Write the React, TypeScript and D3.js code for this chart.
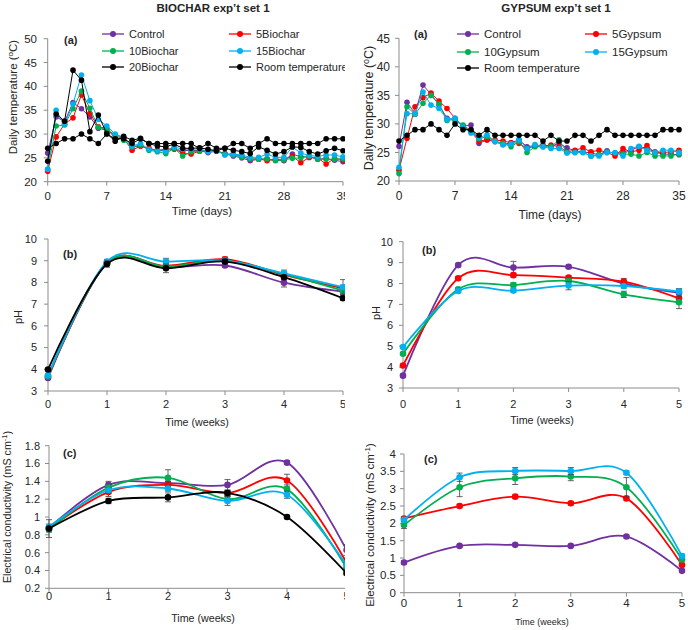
import React from 'react';
import * as d3 from 'd3';

// ---------- categories ----------
const DAYS = Array.from({ length: 36 }, (_, i) => i);
const WEEKS = [0, 1, 2, 3, 4, 5];
const DAY_TICKS = [0, 7, 14, 21, 28, 35];

// ---------- colours ----------
const C_CONTROL = '#7030A0';
const C_5 = '#FF0000';
const C_10 = '#00B050';
const C_15 = '#00B0F0';
const C_20 = '#000000';
const C_ROOM = '#000000';

// ---------- (a) daily temperature, biochar ----------
const bTempControl = [26, 33.6, 32.6, 36.6, 35.3, 33.6, 31.2, 30.8, 29.8, 29.3, 27.3, 27.5, 26.9, 26.5, 26.6, 26.8, 26.5, 26.6, 26.5, 26.1, 26.4, 25.9, 25.4, 25.0, 24.4, 24.7, 24.8, 24.5, 24.4, 25.8, 25.2, 25.2, 24.7, 24.9, 24.5, 24.2];
const bTemp5 = [22.2, 29.4, 32.1, 33.4, 38.2, 34.3, 31.5, 31.2, 29.1, 29.1, 26.6, 27.5, 27.0, 26.6, 26.8, 27.0, 25.9, 25.8, 26.4, 26.5, 26.5, 25.8, 25.8, 25.4, 24.7, 24.8, 24.4, 24.7, 24.7, 25.3, 24.0, 25.1, 25.0, 23.7, 24.9, 24.6];
const bTemp10 = [22.6, 31.7, 31.9, 35.3, 39.0, 35.4, 31.4, 31.0, 29.8, 28.7, 27.3, 27.7, 26.6, 26.3, 25.9, 27.0, 25.4, 26.3, 26.4, 26.5, 26.6, 25.7, 25.6, 25.2, 24.8, 24.7, 24.8, 24.4, 24.6, 24.9, 25.0, 25.4, 24.7, 24.7, 24.7, 24.8];
const bTemp15 = [22.6, 35.0, 32.0, 36.3, 42.4, 37.0, 33.1, 31.7, 30.0, 29.3, 27.5, 28.0, 26.8, 26.5, 26.4, 27.3, 26.8, 26.8, 26.9, 26.3, 26.5, 25.6, 25.8, 25.6, 25.1, 25.1, 25.8, 25.1, 25.1, 27.3, 26.0, 25.5, 25.3, 25.6, 25.6, 25.2];
const bTemp20 = [24.3, 34.2, 32.7, 43.4, 41.3, 30.5, 34.0, 30.1, 28.5, 29.5, 28.7, 29.1, 28.0, 27.5, 27.3, 27.9, 27.0, 27.0, 27.1, 26.8, 26.5, 27.0, 26.6, 26.3, 25.9, 27.3, 26.6, 25.8, 26.3, 27.3, 27.2, 26.3, 25.8, 26.5, 27.0, 26.5];
const roomTemp = [27, 28, 29, 29, 30, 29, 28, 30, 29, 29, 28, 29, 28, 28, 28, 28, 28, 28, 27, 28, 27, 27, 28, 28, 27, 28, 29, 28, 28, 28, 28, 28, 28, 29, 29, 29];

// ---------- (a) daily temperature, gypsum ----------
const gTempControl = [26.1, 33.8, 31.8, 36.8, 35.2, 33.3, 31.0, 30.7, 29.6, 29.8, 26.6, 27.2, 26.9, 26.4, 26.7, 27.2, 26.0, 26.2, 26.3, 26.1, 26.6, 25.8, 25.3, 25.1, 24.9, 24.6, 25.3, 24.7, 25.1, 25.4, 26.0, 25.7, 25.1, 24.7, 24.7, 24.6];
const gTemp5 = [21.9, 27.5, 33.0, 34.6, 35.4, 34.0, 32.7, 31.0, 29.6, 28.6, 27.0, 27.2, 27.2, 27.0, 26.7, 26.6, 25.7, 26.1, 26.1, 26.3, 26.0, 25.1, 25.4, 25.8, 25.1, 25.4, 25.0, 24.4, 25.7, 25.1, 25.4, 26.2, 24.9, 25.0, 25.1, 25.4];
const gTemp10 = [21.3, 33.0, 31.7, 33.6, 35.0, 33.5, 30.6, 30.8, 29.8, 28.8, 27.4, 27.8, 27.0, 26.6, 26.0, 26.9, 25.0, 26.0, 26.0, 26.0, 27.2, 25.0, 25.0, 25.0, 24.4, 24.6, 25.1, 24.9, 24.7, 24.7, 24.4, 25.0, 24.4, 24.4, 24.4, 24.7];
const gTemp15 = [22.4, 31.8, 31.8, 35.6, 33.3, 32.7, 30.8, 31.0, 29.4, 28.4, 27.6, 28.1, 26.9, 26.3, 26.5, 27.2, 25.7, 26.4, 26.0, 25.7, 25.7, 24.9, 25.0, 25.0, 24.4, 24.4, 25.0, 25.0, 24.4, 25.7, 26.1, 25.4, 25.0, 25.4, 25.4, 25.0];

// ---------- (b) pH ----------
const bPhControl = [3.6, 8.89, 8.69, 8.78, 7.99, 7.58];
const bPh5 = [3.65, 8.9, 8.76, 9.07, 8.35, 7.73];
const bPh10 = [3.68, 8.9, 8.73, 9.0, 8.38, 7.62];
const bPh15 = [3.72, 8.96, 8.96, 9.0, 8.42, 7.78];
const bPh20 = [3.99, 8.85, 8.65, 8.96, 8.24, 7.27];
const bPhErrControl = [0.05, 0.1, 0.1, 0.08, 0.2, 0.15];
const bPhErr5 = [0.05, 0.1, 0.1, 0.1, 0.1, 0.15];
const bPhErr10 = [0.05, 0.1, 0.1, 0.08, 0.1, 0.2];
const bPhErr15 = [0.05, 0.1, 0.15, 0.1, 0.15, 0.35];
const bPhErr20 = [0.05, 0.15, 0.2, 0.1, 0.1, 0.1];

const gPhControl = [3.59, 8.88, 8.76, 8.8, 8.0, 7.56];
const gPh5 = [4.08, 8.25, 8.4, 8.28, 8.09, 7.29];
const gPh10 = [4.64, 7.72, 7.93, 8.12, 7.48, 7.1];
const gPh15 = [4.96, 7.64, 7.66, 7.9, 7.88, 7.61];
const gPhErrControl = [0.05, 0.08, 0.3, 0.08, 0.1, 0.2];
const gPhErr5 = [0.05, 0.08, 0.1, 0.1, 0.15, 0.1];
const gPhErr10 = [0.05, 0.08, 0.1, 0.1, 0.15, 0.3];
const gPhErr15 = [0.05, 0.08, 0.08, 0.2, 0.1, 0.1];

// ---------- (c) electrical conductivity ----------
const bEcControl = [0.88, 1.36, 1.38, 1.36, 1.61, 0.63];
const bEc5 = [0.87, 1.28, 1.36, 1.27, 1.41, 0.49];
const bEc10 = [0.86, 1.33, 1.44, 1.2, 1.31, 0.43];
const bEc15 = [0.89, 1.3, 1.32, 1.18, 1.25, 0.46];
const bEc20 = [0.87, 1.18, 1.22, 1.27, 1.0, 0.37];
const bEcErrControl = [0.03, 0.04, 0.04, 0.06, 0.02, 0.06];
const bEcErr5 = [0.03, 0.05, 0.03, 0.03, 0.07, 0.03];
const bEcErr10 = [0.03, 0.03, 0.09, 0.03, 0.05, 0.03];
const bEcErr15 = [0.03, 0.03, 0.03, 0.05, 0.04, 0.03];
const bEcErr20 = [0.1, 0.03, 0.05, 0.03, 0.02, 0.02];

const gEcControl = [0.87, 1.35, 1.38, 1.35, 1.62, 0.63];
const gEc5 = [2.14, 2.5, 2.77, 2.58, 2.72, 0.8];
const gEc10 = [1.95, 3.04, 3.3, 3.35, 3.04, 0.96];
const gEc15 = [2.1, 3.33, 3.51, 3.51, 3.46, 1.06];
const gEcErrControl = [0.05, 0.03, 0.03, 0.03, 0.04, 0.03];
const gEcErr5 = [0.05, 0.05, 0.05, 0.05, 0.05, 0.05];
const gEcErr10 = [0.1, 0.27, 0.18, 0.12, 0.28, 0.05];
const gEcErr15 = [0.05, 0.12, 0.1, 0.1, 0.05, 0.05];

// ---------- tick labels ----------
const TEMP_B_TICKS = [20, 25, 30, 35, 40, 45, 50];
const TEMP_G_TICKS = [20, 25, 30, 35, 40, 45];
const PH_TICKS = [3, 4, 5, 6, 7, 8, 9, 10];
const ECB_TICKS = [0.2, 0.4, 0.6, 0.8, 1, 1.2, 1.4, 1.6, 1.8];
const ECG_TICKS = [0, 0.5, 1, 1.5, 2, 2.5, 3, 3.5, 4];

const FONT = '"Liberation Sans", Arial, sans-serif';
const TXT = '#262626';
const AXIS = '#8c8c8c';

type Series = { name: string; color: string; values: number[]; err?: number[] };

type LegendItem = { s: Series; lx: number; ly: number };

type PanelCfg = {
  clip?: boolean;
  xs: number[];
  xr: [number, number];
  yr: [number, number];
  xd: [number, number];
  yd: [number, number];
  xTicks: number[];
  yTicks: number[];
  tickFont: number;
  xTickBase: number;
  yTickRight: number;
  series: Series[];
  smooth: boolean;
  r: number;
  lw: number;
  xTitle: string;
  xTitleX: number;
  xTitleY: number;
  xTitleFont: number;
  yTitle: React.ReactNode;
  yTitleX: number;
  yTitleY: number;
  yTitleFont: number;
  tag: string;
  tagX: number;
  tagY: number;
  legend?: LegendItem[];
  legendFont?: number;
};

function Panel({ c }: { c: PanelCfg }) {
  const x = d3.scaleLinear().domain(c.xd).range(c.xr);
  const y = d3.scaleLinear().domain(c.yd).range(c.yr);
  const line = d3
    .line<number>()
    .x((_, i) => x(c.xs[i]))
    .y((v) => y(v));
  if (c.smooth) line.curve(d3.curveCatmullRom.alpha(0));
  const fmt = (v: number) => String(+v.toFixed(2));
  return (
    <g clipPath={c.clip ? 'url(#leftclip)' : undefined} fontFamily={FONT}>
      {/* axes */}
      <line x1={c.xr[0]} x2={c.xr[0]} y1={c.yr[0]} y2={c.yr[1]} stroke={AXIS} strokeWidth={1} />
      <line x1={c.xr[0]} x2={c.xr[1]} y1={c.yr[0]} y2={c.yr[0]} stroke={AXIS} strokeWidth={1} />
      {c.yTicks.map((t) => (
        <g key={'y' + t}>
          <line x1={c.xr[0] - 4} x2={c.xr[0]} y1={y(t)} y2={y(t)} stroke={AXIS} />
          <text x={c.yTickRight} y={y(t)} dy="0.35em" textAnchor="end" fontSize={c.tickFont} fill={TXT}>
            {fmt(t)}
          </text>
        </g>
      ))}
      {c.xTicks.map((t) => (
        <g key={'x' + t}>
          <line x1={x(t)} x2={x(t)} y1={c.yr[0]} y2={c.yr[0] + 4} stroke={AXIS} />
          <text x={x(t)} y={c.xTickBase} textAnchor="middle" fontSize={c.tickFont} fill={TXT}>
            {fmt(t)}
          </text>
        </g>
      ))}
      <text x={c.xTitleX} y={c.xTitleY} textAnchor="middle" fontSize={c.xTitleFont} fill={TXT}>
        {c.xTitle}
      </text>
      <text
        transform={`translate(${c.yTitleX},${c.yTitleY}) rotate(-90)`}
        textAnchor="middle"
        fontSize={c.yTitleFont}
        fill={TXT}
      >
        {c.yTitle}
      </text>
      <text x={c.tagX} y={c.tagY} fontSize={11} fontWeight="bold" fill={TXT}>
        {c.tag}
      </text>
      {/* series */}
      {c.series.map((s) => (
        <g key={s.name}>
          <path d={line(s.values) || ''} fill="none" stroke={s.color} strokeWidth={c.lw} />
          {s.err &&
            s.values.map((v, i) => {
              const e = s.err![i];
              const xx = x(c.xs[i]);
              return (
                <g key={i} stroke="#404040" strokeWidth={0.8}>
                  <line x1={xx} x2={xx} y1={y(v - e)} y2={y(v + e)} />
                  <line x1={xx - 3} x2={xx + 3} y1={y(v - e)} y2={y(v - e)} />
                  <line x1={xx - 3} x2={xx + 3} y1={y(v + e)} y2={y(v + e)} />
                </g>
              );
            })}
          {s.values.map((v, i) => (
            <circle key={i} cx={x(c.xs[i])} cy={y(v)} r={c.r} fill={s.color} />
          ))}
        </g>
      ))}
      {c.legend &&
        c.legend.map((l) => (
          <g key={'lg' + l.s.name}>
            <line x1={l.lx} x2={l.lx + 22} y1={l.ly} y2={l.ly} stroke={l.s.color} strokeWidth={1.3} />
            <circle cx={l.lx + 11} cy={l.ly} r={3} fill={l.s.color} />
            <text x={l.lx + 27} y={l.ly} dy="0.35em" fontSize={c.legendFont} fill={TXT}>
              {l.s.name}
            </text>
          </g>
        ))}
    </g>
  );
}

const tempTitle = (
  <>
    Daily temperature (<tspan dy={-4} fontSize="0.7em">o</tspan>
    <tspan dy={4}>C)</tspan>
  </>
);
const ecTitle = (
  <>
    Electrical conductivity (mS cm<tspan dy={-4} fontSize="0.7em">-1</tspan>
    <tspan dy={4}>)</tspan>
  </>
);

export default function App() {
  const bTempSeries: Series[] = [
    { name: 'Control', color: C_CONTROL, values: bTempControl },
    { name: '5Biochar', color: C_5, values: bTemp5 },
    { name: '10Biochar', color: C_10, values: bTemp10 },
    { name: '15Biochar', color: C_15, values: bTemp15 },
    { name: '20Biochar', color: C_20, values: bTemp20 },
    { name: 'Room temperature', color: C_ROOM, values: roomTemp },
  ];
  const gTempSeries: Series[] = [
    { name: 'Control', color: C_CONTROL, values: gTempControl },
    { name: '5Gypsum', color: C_5, values: gTemp5 },
    { name: '10Gypsum', color: C_10, values: gTemp10 },
    { name: '15Gypsum', color: C_15, values: gTemp15 },
    { name: 'Room temperature', color: C_ROOM, values: roomTemp },
  ];
  const bPhSeries: Series[] = [
    { name: 'Control', color: C_CONTROL, values: bPhControl, err: bPhErrControl },
    { name: '5Biochar', color: C_5, values: bPh5, err: bPhErr5 },
    { name: '10Biochar', color: C_10, values: bPh10, err: bPhErr10 },
    { name: '15Biochar', color: C_15, values: bPh15, err: bPhErr15 },
    { name: '20Biochar', color: C_20, values: bPh20, err: bPhErr20 },
  ];
  const gPhSeries: Series[] = [
    { name: 'Control', color: C_CONTROL, values: gPhControl, err: gPhErrControl },
    { name: '5Gypsum', color: C_5, values: gPh5, err: gPhErr5 },
    { name: '10Gypsum', color: C_10, values: gPh10, err: gPhErr10 },
    { name: '15Gypsum', color: C_15, values: gPh15, err: gPhErr15 },
  ];
  const bEcSeries: Series[] = [
    { name: 'Control', color: C_CONTROL, values: bEcControl, err: bEcErrControl },
    { name: '5Biochar', color: C_5, values: bEc5, err: bEcErr5 },
    { name: '10Biochar', color: C_10, values: bEc10, err: bEcErr10 },
    { name: '15Biochar', color: C_15, values: bEc15, err: bEcErr15 },
    { name: '20Biochar', color: C_20, values: bEc20, err: bEcErr20 },
  ];
  const gEcSeries: Series[] = [
    { name: 'Control', color: C_CONTROL, values: gEcControl, err: gEcErrControl },
    { name: '5Gypsum', color: C_5, values: gEc5, err: gEcErr5 },
    { name: '10Gypsum', color: C_10, values: gEc10, err: gEcErr10 },
    { name: '15Gypsum', color: C_15, values: gEc15, err: gEcErr15 },
  ];

  const panels: PanelCfg[] = [
    {
      clip: true, xs: DAYS, xr: [47.7, 343], yr: [181.7, 38.7], xd: [0, 35], yd: [20, 50],
      xTicks: DAY_TICKS, yTicks: TEMP_B_TICKS, tickFont: 11.5, xTickBase: 200, yTickRight: 37,
      series: bTempSeries, smooth: false, r: 2.8, lw: 1,
      xTitle: 'Time (days)', xTitleX: 202, xTitleY: 215, xTitleFont: 11.5,
      yTitle: tempTitle, yTitleX: 17, yTitleY: 97, yTitleFont: 11.5,
      tag: '(a)', tagX: 64, tagY: 44,
      legendFont: 11,
      legend: [
        { s: bTempSeries[0], lx: 102, ly: 34 },
        { s: bTempSeries[1], lx: 229, ly: 34 },
        { s: bTempSeries[2], lx: 102, ly: 51 },
        { s: bTempSeries[3], lx: 229, ly: 51 },
        { s: bTempSeries[4], lx: 102, ly: 67 },
        { s: bTempSeries[5], lx: 229, ly: 67 },
      ],
    },
    {
      xs: DAYS, xr: [399, 679], yr: [181, 38.3], xd: [0, 35], yd: [20, 45],
      xTicks: DAY_TICKS, yTicks: TEMP_G_TICKS, tickFont: 12, xTickBase: 200, yTickRight: 390,
      series: gTempSeries, smooth: false, r: 2.8, lw: 1,
      xTitle: 'Time (days)', xTitleX: 550, xTitleY: 219, xTitleFont: 12,
      yTitle: tempTitle, yTitleX: 373, yTitleY: 108, yTitleFont: 12.5,
      tag: '(a)', tagX: 414, tagY: 38,
      legendFont: 11.5,
      legend: [
        { s: gTempSeries[0], lx: 457, ly: 34 },
        { s: gTempSeries[1], lx: 585, ly: 34 },
        { s: gTempSeries[2], lx: 457, ly: 52 },
        { s: gTempSeries[3], lx: 585, ly: 52 },
        { s: gTempSeries[4], lx: 457, ly: 68 },
      ],
    },
    {
      clip: true, xs: WEEKS, xr: [48, 343], yr: [391, 239], xd: [0, 5], yd: [3, 10],
      xTicks: WEEKS, yTicks: PH_TICKS, tickFont: 11, xTickBase: 408, yTickRight: 37,
      series: bPhSeries, smooth: true, r: 3.3, lw: 1.8,
      xTitle: 'Time (weeks)', xTitleX: 197, xTitleY: 426, xTitleFont: 10.7,
      yTitle: 'pH', yTitleX: 22, yTitleY: 317, yTitleFont: 11,
      tag: '(b)', tagX: 63, tagY: 258,
    },
    {
      xs: WEEKS, xr: [403, 679], yr: [388, 241.7], xd: [0, 5], yd: [3, 10],
      xTicks: WEEKS, yTicks: PH_TICKS, tickFont: 11, xTickBase: 408, yTickRight: 393,
      series: gPhSeries, smooth: true, r: 3.3, lw: 1.8,
      xTitle: 'Time (weeks)', xTitleX: 542, xTitleY: 424, xTitleFont: 10.7,
      yTitle: 'pH', yTitleX: 380, yTitleY: 313, yTitleFont: 11,
      tag: '(b)', tagX: 422, tagY: 254,
    },
    {
      clip: true, xs: WEEKS, xr: [49, 346.5], yr: [588.3, 445.7], xd: [0, 5], yd: [0.2, 1.8],
      xTicks: WEEKS, yTicks: ECB_TICKS, tickFont: 11, xTickBase: 600, yTickRight: 40,
      series: bEcSeries, smooth: true, r: 3.3, lw: 1.8,
      xTitle: 'Time (weeks)', xTitleX: 203, xTitleY: 622, xTitleFont: 10.7,
      yTitle: ecTitle, yTitleX: 11, yTitleY: 507, yTitleFont: 10.7,
      tag: '(c)', tagX: 63, tagY: 457,
    },
    {
      xs: WEEKS, xr: [404, 682], yr: [592.7, 454], xd: [0, 5], yd: [0, 4],
      xTicks: WEEKS, yTicks: ECG_TICKS, tickFont: 11.5, xTickBase: 607, yTickRight: 396,
      series: gEcSeries, smooth: true, r: 3.3, lw: 1.8,
      xTitle: 'Time (weeks)', xTitleX: 542, xTitleY: 625, xTitleFont: 9,
      yTitle: ecTitle, yTitleX: 374, yTitleY: 525, yTitleFont: 11.5,
      tag: '(c)', tagX: 424, tagY: 463,
    },
  ];

  return (
    <svg
      width={688}
      height={630}
      viewBox="0 0 688 630"
      style={{ position: 'absolute', left: 0, top: 0, background: '#fff' }}
    >
      <defs>
        <clipPath id="leftclip">
          <rect x={0} y={0} width={345} height={630} />
        </clipPath>
      </defs>
      <rect x={0} y={0} width={688} height={630} fill="#fff" />
      <text x={213} y={12} textAnchor="middle" fontFamily={FONT} fontSize={11.5} fontWeight="bold" fill={TXT}>
        BIOCHAR exp’t set 1
      </text>
      <text x={556} y={12} textAnchor="middle" fontFamily={FONT} fontSize={11.5} fontWeight="bold" fill={TXT}>
        GYPSUM exp’t set 1
      </text>
      {panels.map((p, i) => (
        <Panel key={i} c={p} />
      ))}
    </svg>
  );
}
